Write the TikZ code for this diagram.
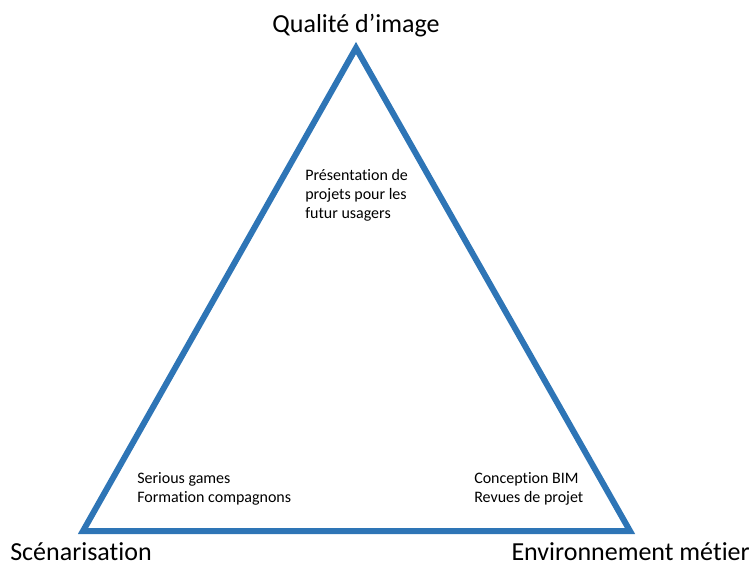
\documentclass[tikz,border=0pt]{standalone}
\usepackage{fontspec}
\setmainfont{Carlito}[Ligatures=NoCommon]
\usepackage{xcolor}
\usepackage{tikz}
\usetikzlibrary{positioning}

\definecolor{triblue}{HTML}{2E75B6}

\begin{document}
\begin{tikzpicture}[x=0.75pt, y=-0.75pt,
    corner/.style={font=\fontsize{19.5}{23}\selectfont, inner sep=0pt},
    usage/.style={font=\fontsize{12}{14.25}\selectfont, align=left, inner sep=0pt, anchor=base west},
    side/.style={draw=triblue, line width=4.5pt, miter limit=10}]

\useasboundingbox (0,0) rectangle (753,565);

\coordinate (top) at (356,48);
\coordinate (left) at (83,531);
\coordinate (right) at (630,531);

\draw[side] (top) -- (left) -- (right) -- cycle;

\node[corner, anchor=base] (image) at (356,32) {Qualité d’image};
\node[corner, anchor=base west] (scenario) at (10,560) {Scénarisation};
\node[corner, anchor=base east] (metier) at (750,560) {Environnement métier};

\node[usage] (projets) at (305,218) {Présentation de\\projets pour les\\futur usagers};
\node[usage] (games) at (137,502) {Serious games\\Formation compagnons};
\node[usage] (bim) at (474,502) {Conception BIM\\Revues de projet};
\end{tikzpicture}
\end{document}
